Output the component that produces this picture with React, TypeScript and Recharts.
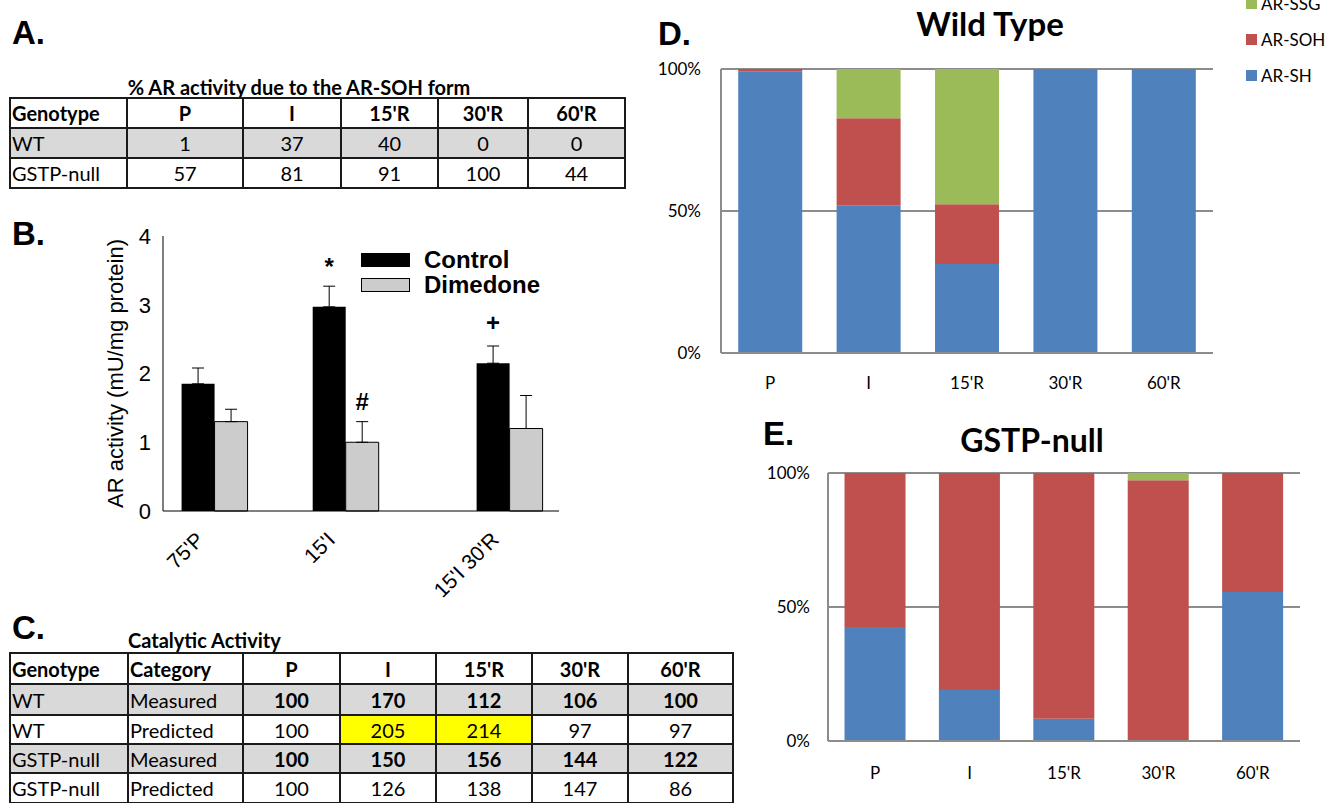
import React from 'react';
import {
  BarChart,
  Bar,
  XAxis,
  YAxis,
  CartesianGrid,
  ErrorBar,
  LabelList,
  Legend
} from 'recharts';

// shared column labels for the tables and the stacked charts
const timePoints = ['P', 'I', "15'R", "30'R", "60'R"];

// panel A: % AR activity due to the AR-SOH form
const sohWT = [1, 37, 40, 0, 0];
const sohNull = [57, 81, 91, 100, 44];

// panel B: AR activity, control vs dimedone
const bLabels = ["75'P", "15'I", "15'I 30'R"];
const bPositions = [1, 2, 3.25];
const controlMean = [1.85, 2.97, 2.15];
const controlErr = [0.23, 0.3, 0.25];
const dimedoneMean = [1.3, 1.0, 1.2];
const dimedoneErr = [0.18, 0.3, 0.48];
const controlMarks = ['', '*', '+'];
const dimedoneMarks = ['', '#', ''];
const bTicks = [0, 1, 2, 3, 4];

// panel C: catalytic activity
const wtMeasured = [100, 170, 112, 106, 100];
const wtPredicted = [100, 205, 214, 97, 97];
const nullMeasured = [100, 150, 156, 144, 122];
const nullPredicted = [100, 126, 138, 147, 86];
const wtPredictedHighlight = [1, 2];

// panel D: wild type redox forms (%)
const wtSH = [99, 52, 31.3, 100, 100];
const wtSOH = [1, 30.7, 21.1, 0, 0];
const wtSSG = [0, 17.3, 47.6, 0, 0];

// panel E: GSTP-null redox forms (%)
const nullSH = [42.5, 19, 8.3, 0, 55.6];
const nullSOH = [57.5, 81, 91.7, 97.3, 44.4];
const nullSSG = [0, 0, 0, 2.7, 0];
const pctTicks = [0, 50, 100];

const CAL = 'Lato, "Open Sans", sans-serif';
const ARIAL = '"Liberation Sans", Arial, sans-serif';
const GRAY_ROW = '#d9d9d9';
const LINE = '#1a1a1a';

const BLUE = '#4F81BD';
const RED = '#C0504D';
const GREEN = '#9BBB59';
const GRID = '#8c8c8c';

type Cell = { text: string | number; bold?: boolean; left?: boolean; fill?: string };

const GridTable = ({ xs, ys, cells, fontSize }: { xs: number[]; ys: number[]; cells: Cell[][]; fontSize: number }) => {
  const out: React.ReactNode[] = [];
  cells.forEach((row, r) =>
    row.forEach((c, k) => {
      out.push(
        <div
          key={`c${r}-${k}`}
          style={{
            position: 'absolute',
            left: xs[k],
            top: ys[r],
            width: xs[k + 1] - xs[k],
            height: ys[r + 1] - ys[r],
            background: c.fill || 'transparent',
            display: 'flex',
            alignItems: 'center',
            justifyContent: c.left ? 'flex-start' : 'center',
            paddingLeft: c.left ? 2 : 0,
            boxSizing: 'border-box',
            fontFamily: CAL,
            fontWeight: c.bold ? 700 : 400,
            fontSize,
            color: '#000',
            whiteSpace: 'nowrap'
          }}
        >
          {c.text}
        </div>
      );
    })
  );
  const x0 = xs[0];
  const x1 = xs[xs.length - 1];
  const y0 = ys[0];
  const y1 = ys[ys.length - 1];
  ys.forEach((y, i) =>
    out.push(
      <div key={`h${i}`} style={{ position: 'absolute', left: x0 - 1, top: y - 1, width: x1 - x0 + 2, height: 2, background: LINE }} />
    )
  );
  xs.forEach((x, i) =>
    out.push(
      <div key={`v${i}`} style={{ position: 'absolute', left: x - 1, top: y0 - 1, width: 2, height: y1 - y0 + 2, background: LINE }} />
    )
  );
  return <>{out}</>;
};

const Txt = ({ x, cy, size, bold, family, children, center }: any) => (
  <div
    style={{
      position: 'absolute',
      left: center ? x - 300 : x,
      width: center ? 600 : undefined,
      textAlign: center ? 'center' : 'left',
      top: cy - size / 2,
      height: size,
      lineHeight: `${size}px`,
      fontSize: size,
      fontWeight: bold ? 700 : 400,
      fontFamily: family,
      color: '#000',
      whiteSpace: 'nowrap'
    }}
  >
    {children}
  </div>
);

// ---------- panel B ----------
const bData = bLabels.map((label, i) => ({
  label,
  pos: bPositions[i],
  control: controlMean[i],
  dimedone: dimedoneMean[i],
  controlErr: [0, controlErr[i]],
  dimedoneErr: [0, dimedoneErr[i]],
  controlMark: controlMarks[i],
  dimedoneMark: dimedoneMarks[i]
}));

const BTick = ({ x, y, payload }: any) => {
  const i = bPositions.indexOf(payload.value);
  const ax = x - 9;
  const ay = y + 28;
  return (
    <text x={ax} y={ay} transform={`rotate(-45 ${ax} ${ay})`} textAnchor="end" fontSize={21} fontFamily={ARIAL} fill="#000">
      {bLabels[i]}
    </text>
  );
};

const renderMark = (props: any) => {
  const { x, y, width, value } = props;
  if (!value) return null;
  return (
    <text x={Number(x) + Number(width) / 2} y={Number(y) - 32} textAnchor="middle" fontSize={24} fontWeight={700} fontFamily={ARIAL} fill="#000">
      {value}
    </text>
  );
};

const BYLabel = (props: any) => {
  const vb = props.viewBox;
  const cx = vb.x - 8;
  const cy = vb.y + vb.height / 2;
  return (
    <text x={cx} y={cy} transform={`rotate(-90 ${cx} ${cy})`} textAnchor="middle" dominantBaseline="central" fontSize={22} fontFamily={ARIAL} fill="#000">
      AR activity (mU/mg protein)
    </text>
  );
};

const BLegend = () => (
  <div style={{ fontFamily: ARIAL, fontWeight: 700, fontSize: 24, color: '#000' }}>
    {[
      { name: 'Control', fill: '#000' },
      { name: 'Dimedone', fill: '#cccccc' }
    ].map((it) => (
      <div key={it.name} style={{ display: 'flex', alignItems: 'center', height: 25 }}>
        <div style={{ width: 49, height: 14, background: it.fill, border: '1px solid #000', boxSizing: 'border-box', marginRight: 14 }} />
        <span style={{ lineHeight: '24px' }}>{it.name}</span>
      </div>
    ))}
  </div>
);

const PanelB = () => (
  <div style={{ position: 'absolute', left: 60, top: 200 }}>
    <BarChart width={530} height={420} data={bData} margin={{ top: 36, right: 31, bottom: 49, left: 63 }} barGap={0} barSize={33}>
      <XAxis
        dataKey="pos"
        type="number"
        domain={[0.61, 3.63]}
        ticks={bPositions}
        interval={0}
        height={60}
        tickLine={false}
        tickSize={0}
        axisLine={{ stroke: '#000', strokeWidth: 1 }}
        tick={<BTick />}
        allowDataOverflow
      />
      <XAxis
        xAxisId="top"
        orientation="top"
        dataKey="pos"
        type="number"
        domain={[0.61, 3.63]}
        height={0}
        tick={false}
        tickLine={false}
        axisLine={{ stroke: '#000', strokeWidth: 1 }}
        allowDataOverflow
      />
      <YAxis
        domain={[0, 4]}
        ticks={bTicks}
        width={40}
        tickLine={false}
        tickSize={0}
        tickMargin={12}
        axisLine={{ stroke: '#000', strokeWidth: 1 }}
        tick={{ fontSize: 22, fontFamily: ARIAL, fill: '#000' }}
        label={{ content: <BYLabel /> }}
      />
      <YAxis
        yAxisId="right"
        orientation="right"
        width={0}
        domain={[0, 4]}
        tick={false}
        tickLine={false}
        axisLine={{ stroke: '#000', strokeWidth: 1 }}
      />
      <Bar dataKey="control" fill="#000" isAnimationActive={false}>
        <ErrorBar dataKey="controlErr" direction="y" width={6} stroke="#000" strokeWidth={1} />
        <LabelList dataKey="controlMark" content={renderMark} />
      </Bar>
      <Bar dataKey="dimedone" fill="#cccccc" stroke="#000" strokeWidth={1} isAnimationActive={false}>
        <ErrorBar dataKey="dimedoneErr" direction="y" width={6} stroke="#000" strokeWidth={1} />
        <LabelList dataKey="dimedoneMark" content={renderMark} />
      </Bar>
      <Legend
        layout="horizontal"
        verticalAlign="middle"
        align="center"
        wrapperStyle={{ left: 301, top: 47, width: 200 }}
        content={() => <BLegend />}
      />
    </BarChart>
  </div>
);

// ---------- panels D & E ----------
const wtData = timePoints.map((t, i) => ({ name: t, SH: wtSH[i], SOH: wtSOH[i], SSG: wtSSG[i] }));
const nullData = timePoints.map((t, i) => ({ name: t, SH: nullSH[i], SOH: nullSOH[i], SSG: nullSSG[i] }));

const RedoxLegend = () => (
  <div style={{ fontFamily: CAL, fontSize: 17, color: '#000' }}>
    {[
      { name: 'AR-SSG', fill: GREEN },
      { name: 'AR-SOH', fill: RED },
      { name: 'AR-SH', fill: BLUE }
    ].map((it) => (
      <div key={it.name} style={{ display: 'flex', alignItems: 'center', height: 36 }}>
        <div style={{ width: 11, height: 11, background: it.fill, marginRight: 4 }} />
        <span style={{ lineHeight: '17px' }}>{it.name}</span>
      </div>
    ))}
  </div>
);

const StackChart = ({ data, width, height, margin, yWidth, yMargin, xMargin, legend }: any) => (
  <BarChart width={width} height={height} data={data} margin={margin} barCategoryGap="17.5%">
    <CartesianGrid vertical={false} stroke={GRID} strokeWidth={2} />
    <XAxis
      dataKey="name"
      interval={0}
      height={40}
      tickLine={false}
      tickSize={0}
      tickMargin={xMargin}
      axisLine={{ stroke: GRID, strokeWidth: 2 }}
      tick={{ fontSize: 17, fontFamily: CAL, fill: '#000' }}
    />
    <YAxis
      domain={[0, 100]}
      ticks={pctTicks}
      tickFormatter={(v: number) => `${v}%`}
      width={yWidth}
      tickLine={false}
      tickSize={0}
      tickMargin={yMargin}
      axisLine={{ stroke: GRID, strokeWidth: 2 }}
      tick={{ fontSize: 17, fontFamily: CAL, fill: '#000' }}
    />
    <Bar dataKey="SH" stackId="s" fill={BLUE} isAnimationActive={false} />
    <Bar dataKey="SOH" stackId="s" fill={RED} isAnimationActive={false} />
    <Bar dataKey="SSG" stackId="s" fill={GREEN} isAnimationActive={false} />
    {legend && (
      <Legend
        layout="horizontal"
        verticalAlign="middle"
        align="center"
        wrapperStyle={{ left: 596, top: -70, width: 90 }}
        content={() => <RedoxLegend />}
      />
    )}
  </BarChart>
);

// ---------- tables ----------
const tableA: Cell[][] = [
  [{ text: 'Genotype', bold: true, left: true }, ...timePoints.map((t) => ({ text: t, bold: true }))],
  [{ text: 'WT', left: true, fill: GRAY_ROW }, ...sohWT.map((v) => ({ text: v, fill: GRAY_ROW }))],
  [{ text: 'GSTP-null', left: true }, ...sohNull.map((v) => ({ text: v }))]
];

const tableC: Cell[][] = [
  [
    { text: 'Genotype', bold: true, left: true },
    { text: 'Category', bold: true, left: true },
    ...timePoints.map((t) => ({ text: t, bold: true }))
  ],
  [
    { text: 'WT', left: true, fill: GRAY_ROW },
    { text: 'Measured', left: true, fill: GRAY_ROW },
    ...wtMeasured.map((v) => ({ text: v, bold: true, fill: GRAY_ROW }))
  ],
  [
    { text: 'WT', left: true },
    { text: 'Predicted', left: true },
    ...wtPredicted.map((v, i) => ({ text: v, fill: wtPredictedHighlight.includes(i) ? '#ffff00' : undefined }))
  ],
  [
    { text: 'GSTP-null', left: true, fill: GRAY_ROW },
    { text: 'Measured', left: true, fill: GRAY_ROW },
    ...nullMeasured.map((v) => ({ text: v, bold: true, fill: GRAY_ROW }))
  ],
  [
    { text: 'GSTP-null', left: true },
    { text: 'Predicted', left: true },
    ...nullPredicted.map((v) => ({ text: v }))
  ]
];

export default function App() {
  return (
    <div style={{ position: 'absolute', left: 0, top: 0, width: 1326, height: 803, background: '#fff', overflow: 'hidden' }}>
      {/* A */}
      <Txt x={12} cy={32} size={33} bold family={ARIAL}>A.</Txt>
      <Txt x={299} cy={87} size={20} bold family={CAL} center>% AR activity due to the AR-SOH form</Txt>
      <GridTable xs={[10, 127, 243, 341, 438, 528, 625]} ys={[98, 128, 158, 188]} cells={tableA} fontSize={20} />

      {/* B */}
      <Txt x={12} cy={233} size={33} bold family={ARIAL}>B.</Txt>
      <PanelB />

      {/* C */}
      <Txt x={12} cy={627} size={33} bold family={ARIAL}>C.</Txt>
      <Txt x={128} cy={640} size={20} bold family={CAL}>Catalytic Activity</Txt>
      <GridTable xs={[10, 128, 243, 340, 436, 532, 628, 733]} ys={[653, 684, 715, 744, 773, 803]} cells={tableC} fontSize={20} />

      {/* D */}
      <Txt x={658} cy={33} size={33} bold family={ARIAL}>D.</Txt>
      <Txt x={990} cy={23} size={33} bold family={CAL} center>Wild Type</Txt>
      <div style={{ position: 'absolute', left: 650, top: 55 }}>
        <StackChart
          data={wtData}
          width={676}
          height={345}
          margin={{ top: 14, right: 113, bottom: 7, left: 21 }}
          yWidth={50}
          yMargin={20}
          xMargin={24}
          legend
        />
      </div>

      {/* E */}
      <Txt x={763} cy={433} size={33} bold family={ARIAL}>E.</Txt>
      <Txt x={1032} cy={440} size={32} bold family={CAL} center>GSTP-null</Txt>
      <div style={{ position: 'absolute', left: 740, top: 455 }}>
        <StackChart
          data={nullData}
          width={586}
          height={340}
          margin={{ top: 18, right: 26, bottom: 14, left: 28 }}
          yWidth={60}
          yMargin={18}
          xMargin={26}
        />
      </div>
    </div>
  );
}
